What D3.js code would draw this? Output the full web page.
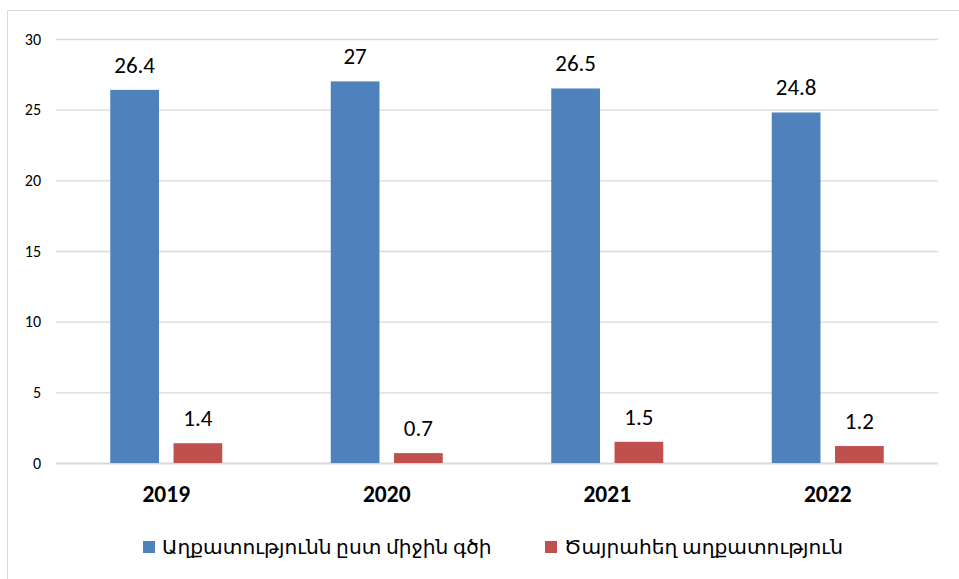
<!DOCTYPE html>
<html><head><meta charset="utf-8">
<script src="https://cdn.jsdelivr.net/npm/d3@7"></script>
<style>body{margin:0;background:#fff}svg{display:block}</style>
</head><body>
<script>
const categories = ["2019","2020","2021","2022"];
const seriesNames = ["Աղքատությունն ըստ միջին գծի","Ծայրահեղ աղքատություն"];
const povertyAvg = [26.4, 27, 26.5, 24.8];
const povertyExtreme = [1.4, 0.7, 1.5, 1.2];
const yTicks = [0,5,10,15,20,25,30];
const colors = ["#4F81BD","#C0504D"];

(function(){
const W=959,H=579;
const svg=d3.select("body").append("svg").attr("width",W).attr("height",H);
const font="Carlito, 'Open Sans', 'Noto Sans', 'DejaVu Sans', sans-serif";
// frame
svg.append("path").attr("d",`M7.5,${H} V10.5 H${W}`).attr("fill","none").attr("stroke","#d9d9d9").attr("stroke-width",1);

const pL=56,pR=938,pT=39,pB=463;
const x=d3.scaleBand().domain(categories).range([pL,pR]).paddingInner(0).paddingOuter(0);
const y=d3.scaleLinear().domain([0,30]).range([pB,pT]);
const inner=d3.scaleBand().domain([0,1]).range([-56,56]).paddingInner(0.23).paddingOuter(0);

// grid
const yAxis=d3.axisLeft(y).tickValues(yTicks).tickSize(-(pR-pL)).tickPadding(15);
const ga=svg.append("g").attr("transform",`translate(${pL},0)`).call(yAxis);
ga.select(".domain").remove();
ga.selectAll(".tick line").attr("stroke","#d9d9d9").attr("stroke-width",d=>d===0?2:1.3);
ga.selectAll(".tick text").attr("font-family",font).attr("font-size",16).attr("fill","#000");

const series=[povertyAvg,povertyExtreme];
series.forEach((vals,si)=>{
  const g=svg.append("g");
  g.selectAll("rect").data(vals).join("rect")
    .attr("x",(d,i)=>x(categories[i])+x.bandwidth()/2+inner(si))
    .attr("width",inner.bandwidth())
    .attr("y",d=>y(d))
    .attr("height",d=>y(0)-y(d))
    .attr("fill",colors[si]);
  g.selectAll("text").data(vals).join("text")
    .attr("x",(d,i)=>x(categories[i])+x.bandwidth()/2+inner(si)+inner.bandwidth()/2)
    .attr("y",d=>y(d)-17)
    .attr("text-anchor","middle")
    .attr("font-family",font).attr("font-size",23).attr("fill","#000")
    .text(d=>d);
});

// x labels
svg.append("g").selectAll("text").data(categories).join("text")
  .attr("x",d=>x(d)+x.bandwidth()/2).attr("y",502)
  .attr("text-anchor","middle").attr("font-family",font).attr("font-weight","bold")
  .attr("font-size",23.5).attr("fill","#000").text(d=>d);

// legend
const legX=[143,545];
seriesNames.forEach((n,i)=>{
  svg.append("rect").attr("x",legX[i]).attr("y",541).attr("width",12).attr("height",12).attr("fill",colors[i]);
  svg.append("text").attr("x",legX[i]+19).attr("y",554).attr("font-family",font)
    .attr("font-size",20.2).attr("fill","#000").text(n);
});
})();
</script>
</body></html>
